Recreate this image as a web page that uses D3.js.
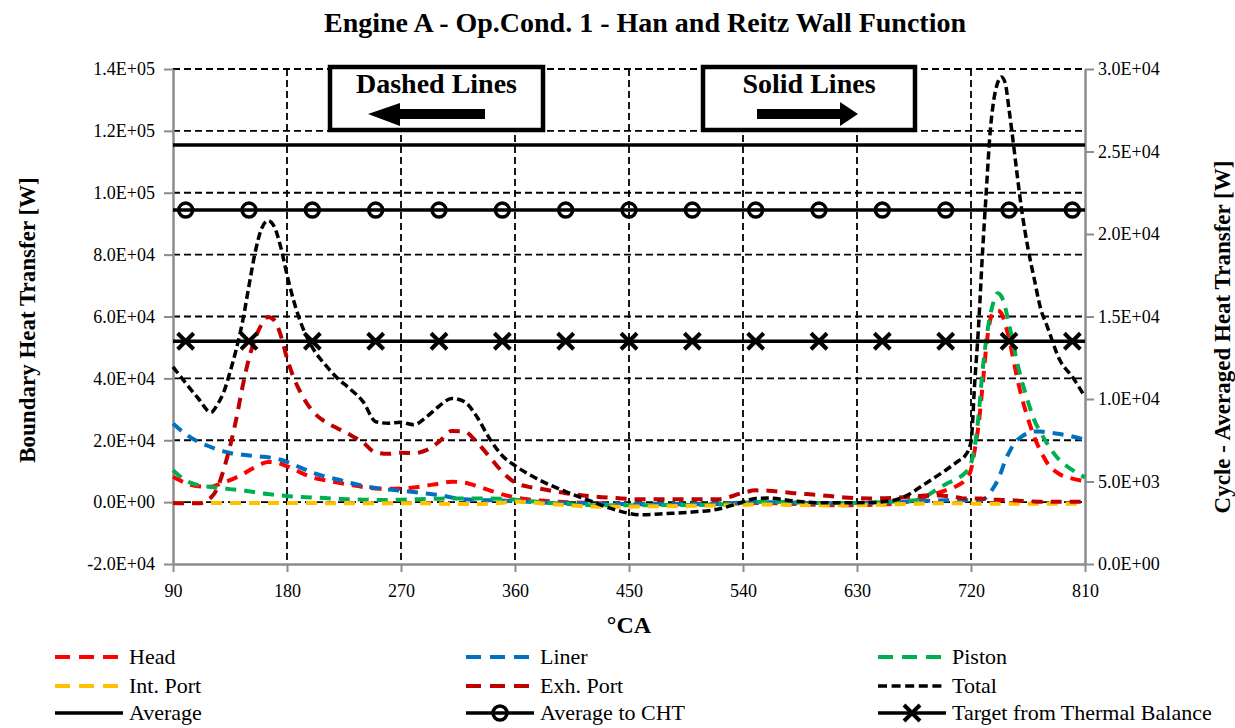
<!DOCTYPE html>
<html>
<head>
<meta charset="utf-8">
<script src="https://cdn.jsdelivr.net/npm/d3@7"></script>
<style>
  body { margin: 0; background: #fff; }
  text { font-family: "Liberation Serif", "Times New Roman", serif; fill: #000; }
</style>
</head>
<body>
<svg id="chart" width="1235" height="728"></svg>
<script>
// ---- data -------------------------------------------------------------
const crankAngle = [90,100,110,120,
  125,130,135,140,145,150,155,160,165,170,175,180,185,190,
  200,210,220,230,240,250,260,270,280,290,300,310,320,330,340,350,360,370,380,
  400,420,440,460,480,500,520,540,
  550,560,
  580,600,620,640,660,
  670,680,690,700,710,
  715,720,
  723,726,729,732,735,738,741,744,747,750,753,756,
  760,765,770,775,780,
  790,800,810];

const headW = [8200,6200,5100,5000,
  5600,6300,7100,8000,9000,10200,11400,12400,13000,12900,12400,11600,10700,9700,
  8000,7100,6300,5600,4900,4400,4300,4400,4700,5300,6000,6600,6300,5200,3800,2500,1500,900,500,
  0,-300,-500,-700,-700,-700,-600,-400,
  -300,-300,
  -600,-900,-1000,-900,-500,
  200,1300,2500,3800,5500,
  7000,10500,
  17000,25000,37000,50000,58500,61500,62000,61000,57500,53000,47000,41000,
  34000,27000,21000,16500,12800,
  9000,7600,6800];

const linerW = [25400,22000,19500,17800,
  17000,16400,15900,15500,15300,15100,14900,14700,14500,14200,13700,13000,12200,11300,
  9600,8300,7300,6200,5300,4600,4100,3700,3300,2800,2300,1500,900,700,600,500,300,100,-100,
  -300,-500,-600,-600,-600,-600,-500,-200,
  0,0,
  -200,-400,-400,-300,0,
  200,400,500,600,600,
  600,600,
  600,700,900,1500,3000,4800,7000,10000,13500,16000,18200,19800,
  21200,22300,22800,22800,22600,
  22000,21200,20200];

const pistonW = [10300,7000,5500,4900,
  4700,4500,4200,4000,3800,3500,3200,2900,2600,2400,2200,2000,1800,1700,
  1500,1300,1100,900,800,700,700,800,900,1000,1100,1200,1200,1200,1200,1100,800,400,0,
  -600,-1000,-1000,-1000,-900,-900,-800,-200,
  0,100,
  0,-300,-300,-200,200,
  400,900,3300,5800,7800,
  9300,12500,
  18000,28000,42000,52500,60000,65000,67500,66500,63000,57500,52000,46000,
  39400,32500,26500,22500,19000,
  13500,10400,8000];

const intPortW = [-300,-300,-300,-300,
  -300,-300,-300,-300,-300,-300,-300,-300,-300,-300,-300,-300,-300,-300,
  -300,-350,-350,-350,-350,-350,-350,-350,-350,-400,-500,-600,-600,-600,-500,-200,200,0,-400,
  -1000,-1400,-1500,-1400,-1300,-1200,-1100,-900,
  -800,-800,
  -900,-1000,-1000,-900,-700,
  -600,-500,-400,-400,-400,
  -400,-400,
  -500,-500,-500,-500,-500,-500,-500,-500,-500,-500,-500,-500,
  -500,-500,-500,-500,-500,
  -500,-500,-500];

const exhPortW = [-300,-400,-400,1500,
  4500,10500,18000,27000,37500,46500,53000,57500,59800,58800,54000,46500,40500,36000,
  29500,26000,23800,21700,19300,16000,15600,16000,15800,16800,19500,23000,22800,19300,14600,9800,6300,5000,4300,
  2900,1900,1300,900,900,900,900,3000,
  3800,3700,
  2900,2300,1500,1200,1400,
  1700,2000,2300,2000,1500,
  1200,1200,
  1200,1200,1100,1000,900,800,800,700,700,650,600,500,
  400,300,200,100,100,
  100,100,100];

const totalW = [43700,38500,33500,29000,
  31500,35500,42000,49500,58500,70000,81000,88500,91000,89000,82500,73500,65500,59000,
  50000,44500,40000,36500,32500,26000,25500,25800,25000,27500,31000,33500,32500,27500,20500,15000,11800,9200,7000,
  3400,300,-2600,-4100,-3700,-3200,-2300,100,
  1200,1300,
  400,-200,-200,-100,700,
  2300,4900,7600,10300,13300,
  14800,19500,
  39000,57000,80000,100000,119000,130000,135500,137400,135500,127000,117500,107300,
  94500,82000,72000,62500,57000,
  46000,40500,34000];

// cycle-averaged values (right axis) and the crank angles of their markers
const averageW = 25400;
const averageToChtW = 21450;
const targetThermalBalanceW = 13500;
const markerAngles = [100,150,200,250,300,350,400,450,500,550,600,650,700,750,800];

const xTicks = [90,180,270,360,450,540,630,720,810];
const leftTicks = [-20000,0,20000,40000,60000,80000,100000,120000,140000];
const rightTicks = [0,5000,10000,15000,20000,25000,30000];

const seriesNames = ["Head","Liner","Piston","Int. Port","Exh. Port","Total"];
const seriesValues = [headW, linerW, pistonW, intPortW, exhPortW, totalW];
const seriesColors = ["#FF0000","#0070C0","#00B050","#FFC000","#C00000","#000000"];

// ---- layout -----------------------------------------------------------
const svg = d3.select("#chart");
const plot = { left: 173, right: 1085, top: 69, bottom: 564 };
const x = d3.scaleLinear().domain([90, 810]).range([plot.left, plot.right]);
const yL = d3.scaleLinear().domain([-20000, 140000]).range([plot.bottom, plot.top]);
const yR = d3.scaleLinear().domain([0, 30000]).range([plot.bottom, plot.top]);

// Excel-style 0.0E+00 labels
function sci(v) {
  if (v === 0) return "0.0E+00";
  const e = Math.floor(Math.log10(Math.abs(v)));
  const m = (v / Math.pow(10, e)).toFixed(1);
  return m + "E" + (e < 0 ? "-" : "+") + String(Math.abs(e)).padStart(2, "0");
}

// ---- grid -------------------------------------------------------------
const grid = svg.append("g");
grid.selectAll("line.h").data(leftTicks.filter(d => d > -20000)).join("line")
  .attr("x1", plot.left).attr("x2", plot.right)
  .attr("y1", d => yL(d)).attr("y2", d => yL(d))
  .attr("stroke", "#000").attr("stroke-width", 1.8).attr("stroke-dasharray", "7,4");
grid.selectAll("line.v").data(xTicks.slice(1, -1)).join("line")
  .attr("x1", d => x(d)).attr("x2", d => x(d))
  .attr("y1", plot.top).attr("y2", plot.bottom)
  .attr("stroke", "#000").attr("stroke-width", 1.8).attr("stroke-dasharray", "7,4");

// ---- axes -------------------------------------------------------------
const axisGray = "#8c8c8c";
function styleAxis(g) {
  g.select(".domain").attr("stroke", axisGray).attr("stroke-width", 2.5);
  g.selectAll(".tick line").attr("stroke", axisGray).attr("stroke-width", 2);
  g.selectAll(".tick text").attr("font-size", 18).attr("font-family", "Liberation Serif").attr("fill", "#000");
}
const gx = svg.append("g").attr("transform", `translate(0,${plot.bottom})`)
  .call(d3.axisBottom(x).tickValues(xTicks).tickSize(8).tickSizeOuter(0).tickPadding(12));
styleAxis(gx);
const gl = svg.append("g").attr("transform", `translate(${plot.left},0)`)
  .call(d3.axisLeft(yL).tickValues(leftTicks).tickFormat(sci).tickSize(9).tickSizeOuter(0).tickPadding(9));
styleAxis(gl);
const gr = svg.append("g").attr("transform", `translate(${plot.right},0)`)
  .call(d3.axisRight(yR).tickValues(rightTicks).tickFormat(sci).tickSize(9).tickSizeOuter(0).tickPadding(4));
styleAxis(gr);

// ---- dashed boundary heat transfer series (left axis) --------------------
const lineL = d3.line().curve(d3.curveMonotoneX)
  .x((d, i) => x(crankAngle[i])).y(d => yL(d));
function dashFor(name) { return name === "Total" ? "8,4" : "11,8"; }
function widthFor(name) { return name === "Total" ? 3.5 : 4; }
seriesValues.forEach((vals, k) => {
  svg.append("path").datum(vals)
    .attr("d", lineL)
    .attr("fill", "none")
    .attr("stroke", seriesColors[k])
    .attr("stroke-width", widthFor(seriesNames[k]))
    .attr("stroke-dasharray", dashFor(seriesNames[k]));
});

// ---- solid cycle-averaged lines (right axis) ----------------------------
function hLine(v) {
  svg.append("line")
    .attr("x1", plot.left).attr("x2", plot.right)
    .attr("y1", yR(v)).attr("y2", yR(v))
    .attr("stroke", "#000").attr("stroke-width", 3.5);
}
function circleMark(g, cx, cy) {
  g.append("circle").attr("cx", cx).attr("cy", cy).attr("r", 7)
    .attr("fill", "none").attr("stroke", "#000").attr("stroke-width", 3.5);
}
function crossMark(g, cx, cy) {
  const s = 8;
  g.append("path")
    .attr("d", `M${cx - s},${cy - s}L${cx + s},${cy + s}M${cx - s},${cy + s}L${cx + s},${cy - s}`)
    .attr("stroke", "#000").attr("stroke-width", 4).attr("fill", "none");
}
hLine(averageW);
hLine(averageToChtW);
hLine(targetThermalBalanceW);
const marks = svg.append("g");
markerAngles.forEach(a => circleMark(marks, x(a), yR(averageToChtW)));
markerAngles.forEach(a => crossMark(marks, x(a), yR(targetThermalBalanceW)));

// ---- annotation boxes ---------------------------------------------------
function noteBox(x0, x1, y0, y1, label, dir) {
  const g = svg.append("g");
  g.append("rect").attr("x", x0).attr("y", y0).attr("width", x1 - x0).attr("height", y1 - y0)
    .attr("fill", "#fff").attr("stroke", "#000").attr("stroke-width", 4.5);
  const cx = (x0 + x1) / 2;
  g.append("text").attr("x", cx).attr("y", y0 + 26).attr("text-anchor", "middle")
    .attr("font-size", 28).attr("font-weight", "bold").text(label);
  const ay = y0 + 47;
  let pts;
  if (dir < 0) {
    pts = [[x0 + 38, ay], [x0 + 70, ay - 11], [x0 + 70, ay - 5], [x0 + 155, ay - 5],
           [x0 + 155, ay + 5], [x0 + 70, ay + 5], [x0 + 70, ay + 12]];
  } else {
    pts = [[x0 + 54, ay - 5], [x0 + 137, ay - 5], [x0 + 137, ay - 12], [x0 + 155, ay],
           [x0 + 137, ay + 12], [x0 + 137, ay + 5], [x0 + 54, ay + 5]];
  }
  g.append("polygon").attr("points", pts.map(p => p.join(",")).join(" ")).attr("fill", "#000");
}
noteBox(330, 543, 67, 130, "Dashed Lines", -1);
noteBox(703, 915, 67, 130, "Solid Lines", 1);

// ---- titles -------------------------------------------------------------
svg.append("text").attr("x", 645).attr("y", 32).attr("text-anchor", "middle")
  .attr("font-size", 28).attr("font-weight", "bold")
  .text("Engine A - Op.Cond. 1 - Han and Reitz Wall Function");

svg.append("text").attr("x", 629).attr("y", 633).attr("text-anchor", "middle")
  .attr("font-size", 24).attr("font-weight", "bold").text("°CA");

function vTitle(cx, cy, label) {
  svg.append("g").attr("transform", `translate(${cx},${cy})`)
    .append("text").attr("text-anchor", "middle").attr("dy", "0.35em")
    .attr("transform", "rotate(-90)")
    .attr("font-size", 23).attr("font-weight", "bold").text(label);
}
vTitle(27, 320, "Boundary Heat Transfer [W]");
vTitle(1222, 337, "Cycle - Averaged Heat Transfer [W]");

// ---- legend -------------------------------------------------------------
const legendItems = [
  { name: "Head", color: "#FF0000", kind: "dash" },
  { name: "Liner", color: "#0070C0", kind: "dash" },
  { name: "Piston", color: "#00B050", kind: "dash" },
  { name: "Int. Port", color: "#FFC000", kind: "dash" },
  { name: "Exh. Port", color: "#C00000", kind: "dash" },
  { name: "Total", color: "#000", kind: "total" },
  { name: "Average", color: "#000", kind: "solid" },
  { name: "Average to CHT", color: "#000", kind: "circle" },
  { name: "Target from Thermal Balance", color: "#000", kind: "cross" }
];
const legCols = [55, 466, 878];
const legRows = [657, 686, 713];
const legend = svg.append("g");
legendItems.forEach((it, i) => {
  const lx = legCols[i % 3], ly = legRows[Math.floor(i / 3)];
  const g = legend.append("g");
  const ln = g.append("line").attr("x1", lx).attr("x2", lx + 68).attr("y1", ly).attr("y2", ly)
    .attr("stroke", it.color);
  if (it.kind === "dash") ln.attr("stroke-width", 4).attr("stroke-dasharray", "15,9");
  else if (it.kind === "total") ln.attr("stroke-width", 3.5).attr("stroke-dasharray", "9,4.6");
  else ln.attr("stroke-width", 3.5);
  if (it.kind === "circle") circleMark(g, lx + 34, ly);
  if (it.kind === "cross") crossMark(g, lx + 34, ly);
  g.append("text").attr("x", lx + 74).attr("y", ly + 7).attr("font-size", 22).text(it.name);
});
</script>
</body>
</html>
